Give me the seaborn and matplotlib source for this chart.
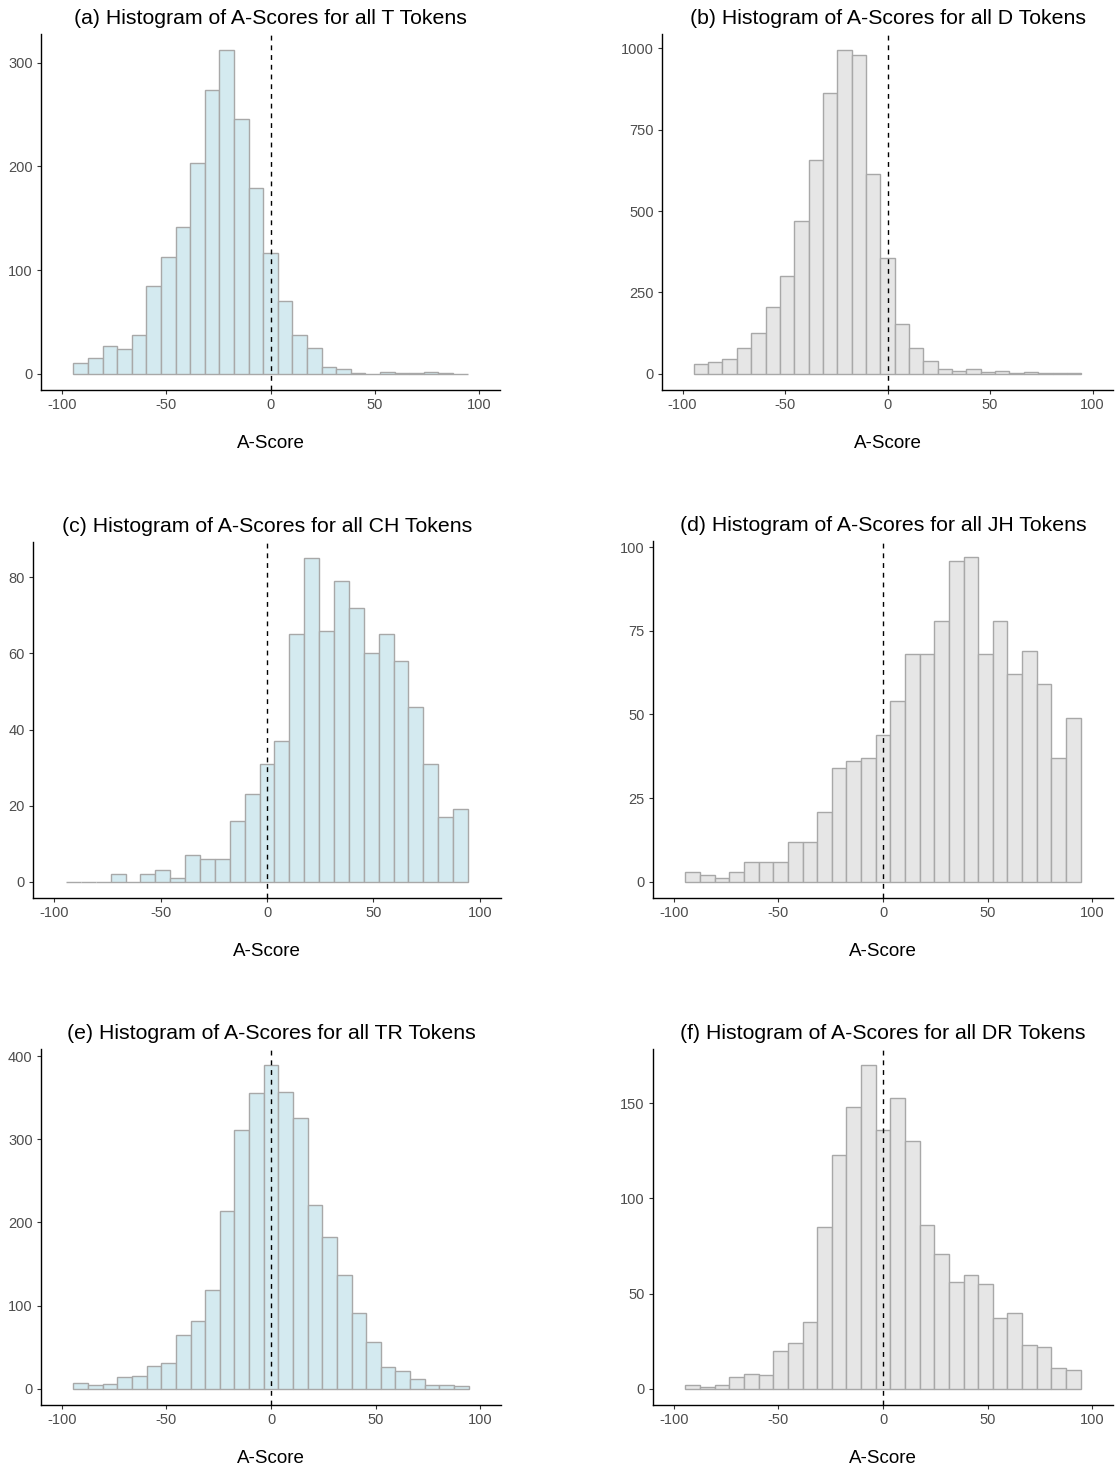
import numpy as np
import pandas as pd
import matplotlib
matplotlib.use("Agg")
import matplotlib.pyplot as plt
import seaborn as sns

# Bin centres (width 7) shared by all six panels
bin_centres = list(range(-91, 92, 7))
bin_width = 7

counts_T = [10, 15, 27, 24, 37, 85, 113, 142, 203, 274, 312, 246, 179, 116,
            70, 37, 25, 7, 5, 1, 0, 2, 1, 1, 2, 1, 0]
counts_D = [31, 37, 47, 79, 124, 205, 301, 469, 658, 863, 994, 980, 615, 355,
            154, 78, 40, 14, 10, 15, 6, 9, 3, 5, 3, 1, 1]
counts_CH = [0, 0, 0, 2, 0, 2, 3, 1, 7, 6, 6, 16, 23, 31,
             37, 65, 85, 66, 79, 72, 60, 65, 58, 46, 31, 17, 19]
counts_JH = [3, 2, 1, 3, 6, 6, 6, 12, 12, 21, 34, 36, 37, 44,
             54, 68, 68, 78, 96, 97, 68, 78, 62, 69, 59, 37, 49]
counts_TR = [7, 4, 6, 14, 15, 28, 31, 65, 81, 119, 214, 311, 356, 389,
             357, 325, 221, 183, 137, 91, 56, 26, 21, 12, 4, 4, 3]
counts_DR = [2, 1, 2, 6, 8, 7, 20, 24, 35, 85, 123, 148, 170, 136,
             153, 130, 86, 71, 56, 60, 55, 37, 40, 23, 22, 11, 10]

titles = [
    "(a) Histogram of A-Scores for all T Tokens",
    "(b) Histogram of A-Scores for all D Tokens",
    "(c) Histogram of A-Scores for all CH Tokens",
    "(d) Histogram of A-Scores for all JH Tokens",
    "(e) Histogram of A-Scores for all TR Tokens",
    "(f) Histogram of A-Scores for all DR Tokens",
]
all_counts = [counts_T, counts_D, counts_CH, counts_JH, counts_TR, counts_DR]
y_steps = [100, 250, 20, 25, 100, 50]

BLUE = "#D4EAF0"
GREY = "#E6E6E6"
fills = [BLUE, GREY, BLUE, GREY, BLUE, GREY]

sns.set_theme(style="white")
plt.rcParams["font.family"] = ["Liberation Sans", "DejaVu Sans"]

fig = plt.figure(figsize=(11.16, 14.68), dpi=100)
W, H = 1116, 1468

# axes boxes in pixels: left, top, right, bottom
boxes = [
    (41, 34, 500, 390),
    (662, 34, 1113, 390),
    (33, 542, 501, 898),
    (653, 541, 1113, 898),
    (41, 1049, 501, 1405),
    (653, 1049, 1113, 1405),
]

lo = bin_centres[0] - bin_width / 2
hi = bin_centres[-1] + bin_width / 2

for counts, title, fill, step, (l, t, r, b) in zip(all_counts, titles, fills,
                                                   y_steps, boxes):
    ax = fig.add_axes([l / W, 1 - b / H, (r - l) / W, (b - t) / H])
    df = pd.DataFrame({"score": bin_centres, "n": counts})
    sns.histplot(data=df, x="score", weights="n", binwidth=bin_width,
                 binrange=(lo, hi), ax=ax,
                 color=fill, alpha=1.0,
                 edgecolor="#A8A8A8", linewidth=1.0)
    ax.axvline(0, color="black", linestyle=(0, (3.5, 3.5)), linewidth=1.0)
    ymax = max(counts)
    ax.set_ylim(-0.05 * ymax, 1.05 * ymax)
    ax.set_yticks(np.arange(0, 1.05 * ymax, step))
    ax.set_xlim(-110, 110)
    ax.set_xticks([-100, -50, 0, 50, 100])
    ax.set_xticklabels(["-100", "-50", "0", "50", "100"])
    ax.set_ylabel("")
    ax.set_xlabel("A-Score", fontsize=13.5, color="black", labelpad=16)
    ax.set_title(title, fontsize=15.3, color="black", pad=7)
    for side in ("top", "right"):
        ax.spines[side].set_visible(False)
    for side in ("left", "bottom"):
        ax.spines[side].set_color("black")
        ax.spines[side].set_linewidth(1.0)
    ax.tick_params(axis="both", which="both", length=3, width=0.8,
                   color="#333333", labelsize=10.5, labelcolor="#4D4D4D",
                   bottom=True, left=True, pad=3)
    ax.grid(False)

fig.savefig("out.png", dpi=100, facecolor="white")
